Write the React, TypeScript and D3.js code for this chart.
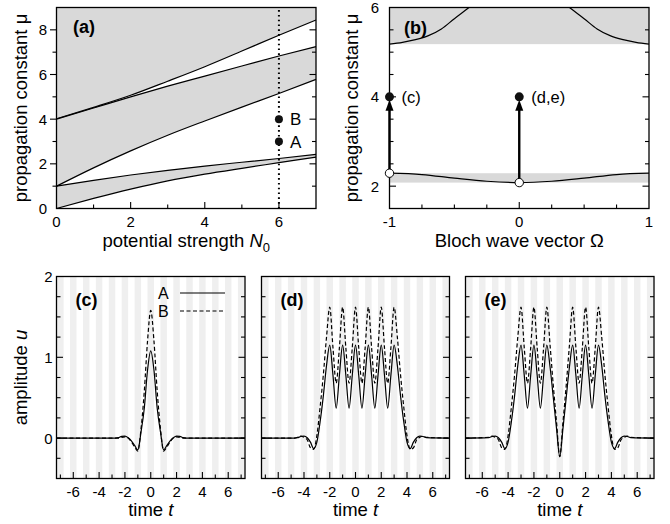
import React, { useEffect, useRef } from 'react';
import * as d3 from 'd3';

// ---- panel (a): band edges vs potential strength N0
const n0Values = [0, 1, 2, 3, 4, 5, 6, 7];
const band1Lower = [0, 0.45, 0.87, 1.24, 1.54, 1.8, 2.05, 2.3];
const band1Upper = [1, 1.26, 1.5, 1.71, 1.9, 2.07, 2.24, 2.42];
const band2Lower = [1, 1.82, 2.58, 3.28, 3.92, 4.54, 5.15, 5.78];
const band2Upper = [4, 4.5, 5.0, 5.48, 5.93, 6.38, 6.83, 7.25];
const band3Lower = [4.02, 4.53, 5.07, 5.7, 6.35, 7.05, 7.76, 8.44];
const solitonN0 = 6;
const solitonMu = [3, 4];
const solitonNames = ['A', 'B'];

// ---- panel (b): Bloch bands at N0 = 6
const omega1 = [-1, -0.75, -0.5, -0.25, 0, 0.25, 0.5, 0.75, 1];
const mu1 = [2.29, 2.26, 2.18, 2.11, 2.08, 2.11, 2.18, 2.26, 2.29];
const omega2 = [-1, -0.9, -0.8, -0.7, -0.6, -0.5, -0.4, -0.3, 0, 0.3, 0.4, 0.5, 0.6, 0.7, 0.8, 0.9, 1];
const mu2 = [5.18, 5.22, 5.28, 5.37, 5.52, 5.75, 5.97, 6.2, 6.83, 6.2, 5.97, 5.75, 5.52, 5.37, 5.28, 5.22, 5.18];
const arrowOmega = [-1, 0];
const arrowFrom = [2.29, 2.08];
const arrowTo = [4, 4];
const arrowNames = ['(c)', '(d,e)'];

// ---- panels (c)-(e): soliton profiles
const timeGrid = [
  -7.3, -5.5, -5.25, -5, -4.75, -4.5, -4.25, -4, -3.75, -3.5, -3.25, -3, -2.75, -2.5, -2.25, -2,
  -1.75, -1.5, -1.25, -1, -0.75, -0.5, -0.25, 0, 0.25, 0.5, 0.75, 1, 1.25, 1.5, 1.75, 2,
  2.25, 2.5, 2.75, 3, 3.25, 3.5, 3.75, 4, 4.25, 4.5, 4.75, 5, 5.25, 5.5, 7.3,
];
const cA = [
  0, 0, 0, 0, 0, 0, 0, 0, 0, 0, 0, 0, 0, 0.005, 0.022, 0.025,
  0.005, -0.035, -0.09, -0.145, 0.08, 0.37, 0.84, 1.08, 0.84, 0.37, 0.08, -0.145, -0.09, -0.035, 0.005, 0.025,
  0.022, 0.005, 0, 0, 0, 0, 0, 0, 0, 0, 0, 0, 0, 0, 0,
];
const cB = [
  0, 0, 0, 0, 0, 0, 0, 0, 0, 0, 0, 0, 0, 0, 0.01, 0.015,
  0, -0.045, -0.11, -0.16, 0.12, 0.58, 1.2, 1.58, 1.2, 0.58, 0.12, -0.16, -0.11, -0.045, 0, 0.015,
  0.01, 0, 0, 0, 0, 0, 0, 0, 0, 0, 0, 0, 0, 0, 0,
];
const dA = [
  0, 0, 0, 0, 0, 0.005, 0.02, 0.025, 0.005, -0.05, -0.13, -0.05, 0.2, 0.52, 0.9, 1.15,
  0.78, 0.37, 0.78, 1.15, 0.78, 0.37, 0.78, 1.15, 0.78, 0.37, 0.78, 1.15, 0.78, 0.37, 0.78, 1.15,
  0.78, 0.37, 0.78, 1.15, 0.9, 0.52, 0.2, -0.05, -0.13, -0.05, 0.005, 0.025, 0.02, 0.005, 0,
];
const dB = [
  0, 0, 0, 0, 0, 0.01, 0.025, 0.01, -0.02, -0.12, -0.14, 0.03, 0.38, 0.78, 1.25, 1.62,
  1.12, 0.68, 1.12, 1.62, 1.12, 0.68, 1.12, 1.62, 1.12, 0.68, 1.12, 1.62, 1.12, 0.68, 1.12, 1.62,
  1.12, 0.68, 1.12, 1.62, 1.25, 0.78, 0.38, 0.03, -0.14, -0.12, -0.02, 0.01, 0.025, 0.01, 0,
];
const eA = [
  0, 0.005, 0.02, 0.025, 0.005, -0.05, -0.13, -0.05, 0.2, 0.52, 0.9, 1.15, 0.78, 0.37, 0.78, 1.15,
  0.78, 0.37, 0.78, 1.15, 0.88, 0.5, 0.12, -0.23, 0.12, 0.5, 0.88, 1.15, 0.78, 0.37, 0.78, 1.15,
  0.78, 0.37, 0.78, 1.15, 0.9, 0.52, 0.2, -0.05, -0.13, -0.05, 0.005, 0.025, 0.02, 0.005, 0,
];
const eB = [
  0, 0.01, 0.025, 0.01, -0.02, -0.12, -0.14, 0.03, 0.38, 0.78, 1.25, 1.62, 1.12, 0.68, 1.12, 1.62,
  1.12, 0.68, 1.12, 1.62, 1.15, 0.65, 0.2, -0.23, 0.2, 0.65, 1.15, 1.62, 1.12, 0.68, 1.12, 1.62,
  1.12, 0.68, 1.12, 1.62, 1.25, 0.78, 0.38, 0.03, -0.14, -0.12, -0.02, 0.01, 0.025, 0.01, 0,
];

const FONT = '"Liberation Sans", Arial, Helvetica, sans-serif';
const BAND_GRAY = '#d9d9d9';
const STRIPE_GRAY = '#efefef';
const TICK_FS = 15;
const TITLE_FS = 18.5;

type G = d3.Selection<SVGGElement, unknown, null, undefined>;

function drawFrame(g: G, x: any, y: any, s: any) {
  const [xl, xr] = x.range();
  const [yb, yt] = y.range();
  const tick = (x1: number, y1: number, x2: number, y2: number) =>
    g.append('line').attr('x1', x1).attr('y1', y1).attr('x2', x2).attr('y2', y2)
      .attr('stroke', '#000').attr('stroke-width', 1.1);

  s.xTicks.forEach((v: number) => {
    const len = s.xMajor.includes(v) ? 6.5 : 4;
    tick(x(v), yb, x(v), yb - len);
  });
  s.yTicks.forEach((v: number) => {
    const len = s.yMajor.includes(v) ? 6.5 : 4;
    tick(xl, y(v), s.leftOut ? xl - len : xl + len, y(v));
    tick(xr, y(v), xr - len, y(v));
  });
  g.append('rect').attr('x', xl).attr('y', yt).attr('width', xr - xl).attr('height', yb - yt)
    .attr('fill', 'none').attr('stroke', '#000').attr('stroke-width', 1.3);

  s.xLabels.forEach((v: number) => {
    g.append('text').attr('x', x(v)).attr('y', yb + s.xLabelDy).attr('text-anchor', 'middle')
      .attr('font-size', TICK_FS).text(String(v));
  });
  s.yLabels.forEach((v: number) => {
    g.append('text').attr('x', xl - s.yLabelGap).attr('y', y(v)).attr('dy', '0.36em')
      .attr('text-anchor', 'end').attr('font-size', TICK_FS).text(String(v));
  });
}

function panelLabel(g: G, x: number, y: number, t: string) {
  g.append('text').attr('x', x).attr('y', y).attr('font-size', 18).attr('font-weight', 'bold').text(t);
}

function yTitle(g: G, x: number, y: number, parts: [string, boolean][]) {
  const t = g.append('text').attr('transform', `translate(${x},${y}) rotate(-90)`)
    .attr('text-anchor', 'middle').attr('font-size', TITLE_FS);
  parts.forEach(([s, it]) => t.append('tspan').attr('font-style', it ? 'italic' : 'normal').text(s));
}

export default function App() {
  const svgRef = useRef<SVGSVGElement>(null);

  useEffect(() => {
    const svg = d3.select(svgRef.current);
    svg.selectAll('*').remove();
    svg.attr('width', 670).attr('height', 524).style('font-family', FONT);
    const root = svg.append('g') as unknown as G;
    const defs = svg.append('defs');

    // ================= (a)
    const ax = d3.scaleLinear().domain([0, 7]).range([56.5, 316]);
    const ay = d3.scaleLinear().domain([0, 9]).range([208.5, 7.5]);
    const ga = root.append('g') as G;
    ga.append('rect').attr('x', ax(0)).attr('y', ay(9)).attr('width', ax(7) - ax(0))
      .attr('height', ay(0) - ay(9)).attr('fill', BAND_GRAY);

    const idx = n0Values.map((_, i) => i);
    const gap = (lo: number[] | null, hi: number[]) =>
      d3.area<number>().x(i => ax(n0Values[i])).y0(i => (lo ? ay(lo[i]) : ay(0))).y1(i => ay(hi[i]))
        .curve(d3.curveMonotoneX)(idx);
    ga.append('path').attr('d', gap(null, band1Lower)).attr('fill', '#fff');
    ga.append('path').attr('d', gap(band1Upper, band2Lower)).attr('fill', '#fff');
    ga.append('path').attr('d', gap(band2Upper, band3Lower)).attr('fill', '#fff');

    [band1Lower, band1Upper, band2Lower, band2Upper, band3Lower].forEach(edge => {
      const line = d3.line<number>().x(i => ax(n0Values[i])).y(i => ay(edge[i])).curve(d3.curveMonotoneX);
      ga.append('path').attr('d', line(idx)).attr('fill', 'none').attr('stroke', '#000').attr('stroke-width', 1.2);
    });

    ga.append('line').attr('x1', ax(solitonN0)).attr('x2', ax(solitonN0)).attr('y1', ay(0)).attr('y2', ay(9))
      .attr('stroke', '#000').attr('stroke-width', 2).attr('stroke-dasharray', '1.6,3.2');
    solitonMu.forEach((m, i) => {
      ga.append('circle').attr('cx', ax(solitonN0)).attr('cy', ay(m)).attr('r', 4).attr('fill', '#111');
      ga.append('text').attr('x', ax(solitonN0) + 11).attr('y', ay(m)).attr('dy', '0.36em')
        .attr('font-size', 17).text(solitonNames[i]);
    });

    drawFrame(ga, ax, ay, {
      xTicks: [1, 2, 3, 4, 5, 6], xMajor: [2, 4, 6], xLabels: [0, 2, 4, 6], xLabelDy: 18.5,
      yTicks: [1, 2, 3, 4, 5, 6, 7, 8], yMajor: [2, 4, 6, 8], yLabels: [0, 2, 4, 6, 8], leftOut: true, yLabelGap: 9.5,
    });
    panelLabel(ga, 73, 33, '(a)');
    yTitle(ga, 27, ay(4.5), [['propagation constant μ', false]]);
    const ta = ga.append('text').attr('x', (ax(0) + ax(7)) / 2).attr('y', 247)
      .attr('text-anchor', 'middle').attr('font-size', TITLE_FS);
    ta.append('tspan').text('potential strength ');
    ta.append('tspan').attr('font-style', 'italic').text('N');
    ta.append('tspan').attr('font-size', 13).attr('dy', 5).text('0');

    // ================= (b)
    const bx = d3.scaleLinear().domain([-1, 1]).range([389.5, 649]);
    const by = d3.scaleLinear().domain([1.5, 6]).range([208.5, 7.5]);
    const gb = root.append('g') as G;
    defs.append('clipPath').attr('id', 'clipB').append('rect')
      .attr('x', bx(-1)).attr('y', by(6)).attr('width', bx(1) - bx(-1)).attr('height', by(1.5) - by(6));

    const [lo1, hi1] = d3.extent(mu1) as [number, number];
    const lo2 = d3.min(mu2) as number;
    gb.append('rect').attr('x', bx(-1)).attr('width', bx(1) - bx(-1))
      .attr('y', by(hi1)).attr('height', by(lo1) - by(hi1)).attr('fill', BAND_GRAY);
    gb.append('rect').attr('x', bx(-1)).attr('width', bx(1) - bx(-1))
      .attr('y', by(6)).attr('height', by(lo2) - by(6)).attr('fill', BAND_GRAY);

    const disp1 = d3.line<number>().x(i => bx(omega1[i])).y(i => by(mu1[i])).curve(d3.curveMonotoneX);
    const disp2 = d3.line<number>().x(i => bx(omega2[i])).y(i => by(mu2[i])).curve(d3.curveMonotoneX);
    const cb = gb.append('g').attr('clip-path', 'url(#clipB)');
    cb.append('path').attr('d', disp1(omega1.map((_, i) => i))).attr('fill', 'none').attr('stroke', '#000').attr('stroke-width', 1.2);
    cb.append('path').attr('d', disp2(omega2.map((_, i) => i))).attr('fill', 'none').attr('stroke', '#000').attr('stroke-width', 1.2);

    drawFrame(gb, bx, by, {
      xTicks: [-0.75, -0.5, -0.25, 0, 0.25, 0.5, 0.75], xMajor: [0], xLabels: [-1, 0, 1], xLabelDy: 18.5,
      yTicks: [2, 2.5, 3, 3.5, 4, 4.5, 5, 5.5], yMajor: [2, 4], yLabels: [2, 4, 6], leftOut: false, yLabelGap: 10.5,
    });

    arrowOmega.forEach((o, i) => {
      const xx = bx(o);
      const yTip = by(arrowTo[i]) + 3;
      gb.append('line').attr('x1', xx).attr('x2', xx).attr('y1', by(arrowFrom[i])).attr('y2', yTip + 6)
        .attr('stroke', '#000').attr('stroke-width', 2.4);
      gb.append('path').attr('d', `M${xx},${yTip} L${xx - 4},${yTip + 11} L${xx + 4},${yTip + 11} Z`).attr('fill', '#000');
      gb.append('circle').attr('cx', xx).attr('cy', by(arrowTo[i])).attr('r', 4.5).attr('fill', '#111');
      gb.append('circle').attr('cx', xx).attr('cy', by(arrowFrom[i])).attr('r', 4.2)
        .attr('fill', '#fff').attr('stroke', '#000').attr('stroke-width', 1);
      gb.append('text').attr('x', xx + 12).attr('y', by(arrowTo[i])).attr('dy', '0.36em')
        .attr('font-size', 16.5).text(arrowNames[i]);
    });
    panelLabel(gb, 404, 34, '(b)');
    yTitle(gb, 358, by(3.75), [['propagation constant μ', false]]);
    gb.append('text').attr('x', (bx(-1) + bx(1)) / 2).attr('y', 247).attr('text-anchor', 'middle')
      .attr('font-size', TITLE_FS).text('Bloch wave vector Ω');

    // ================= (c)-(e)
    const panels = [
      { name: '(c)', left: 56.5, right: 245, a: cA, b: cB, yLabels: [0, 1, 2], legend: true },
      { name: '(d)', left: 261.5, right: 449.5, a: dA, b: dB, yLabels: [], legend: false },
      { name: '(e)', left: 465.5, right: 654, a: eA, b: eB, yLabels: [], legend: false },
    ];
    const uy = d3.scaleLinear().domain([-0.5, 2]).range([478.5, 276.5]);
    const stripeCenters = d3.range(-8, 9);

    panels.forEach((p, k) => {
      const tx = d3.scaleLinear().domain([-7.3, 7.3]).range([p.left, p.right]);
      const g = root.append('g') as G;
      const cid = `clipT${k}`;
      defs.append('clipPath').attr('id', cid).append('rect')
        .attr('x', p.left).attr('y', uy(2)).attr('width', p.right - p.left).attr('height', uy(-0.5) - uy(2));
      const cg = g.append('g').attr('clip-path', `url(#${cid})`);
      cg.selectAll('rect').data(stripeCenters).join('rect')
        .attr('x', c => tx(c - 0.25)).attr('width', c => tx(c + 0.25) - tx(c - 0.25))
        .attr('y', uy(2)).attr('height', uy(-0.5) - uy(2)).attr('fill', STRIPE_GRAY);

      const ids = timeGrid.map((_, i) => i);
      const lineOf = (vals: number[]) =>
        d3.line<number>().x(i => tx(timeGrid[i])).y(i => uy(vals[i])).curve(d3.curveMonotoneX)(ids);
      cg.append('path').attr('d', lineOf(p.b)).attr('fill', 'none').attr('stroke', '#000')
        .attr('stroke-width', 1.2).attr('stroke-dasharray', '4,2.5');
      cg.append('path').attr('d', lineOf(p.a)).attr('fill', 'none').attr('stroke', '#000').attr('stroke-width', 1.2);

      drawFrame(g, tx, uy, {
        xTicks: [-7, -6, -5, -4, -3, -2, -1, 0, 1, 2, 3, 4, 5, 6, 7], xMajor: [-6, -4, -2, 0, 2, 4, 6],
        xLabels: [-6, -4, -2, 0, 2, 4, 6], xLabelDy: 18,
        yTicks: [-0.25, 0, 0.25, 0.5, 0.75, 1, 1.25, 1.5, 1.75], yMajor: [0, 1], yLabels: p.yLabels,
        leftOut: false, yLabelGap: 4,
      });
      panelLabel(g, p.left + 19, 306, p.name);
      const tt = g.append('text').attr('x', (p.left + p.right) / 2).attr('y', 516)
        .attr('text-anchor', 'middle').attr('font-size', TITLE_FS);
      tt.append('tspan').text('time ');
      tt.append('tspan').attr('font-style', 'italic').text('t');

      if (p.legend) {
        ['A', 'B'].forEach((nm, j) => {
          const ly = 293 + j * 18;
          g.append('text').attr('x', 158).attr('y', ly).attr('dy', '0.36em').attr('font-size', 16).text(nm);
          g.append('line').attr('x1', 180).attr('x2', 225).attr('y1', ly).attr('y2', ly)
            .attr('stroke', '#000').attr('stroke-width', 1.2).attr('stroke-dasharray', j ? '4,2.5' : null);
        });
      }
    });
    yTitle(root, 27, uy(0.75), [['amplitude ', false], ['u', true]]);
  }, []);

  return <svg ref={svgRef} style={{ position: 'absolute', left: 0, top: 0 }} />;
}
